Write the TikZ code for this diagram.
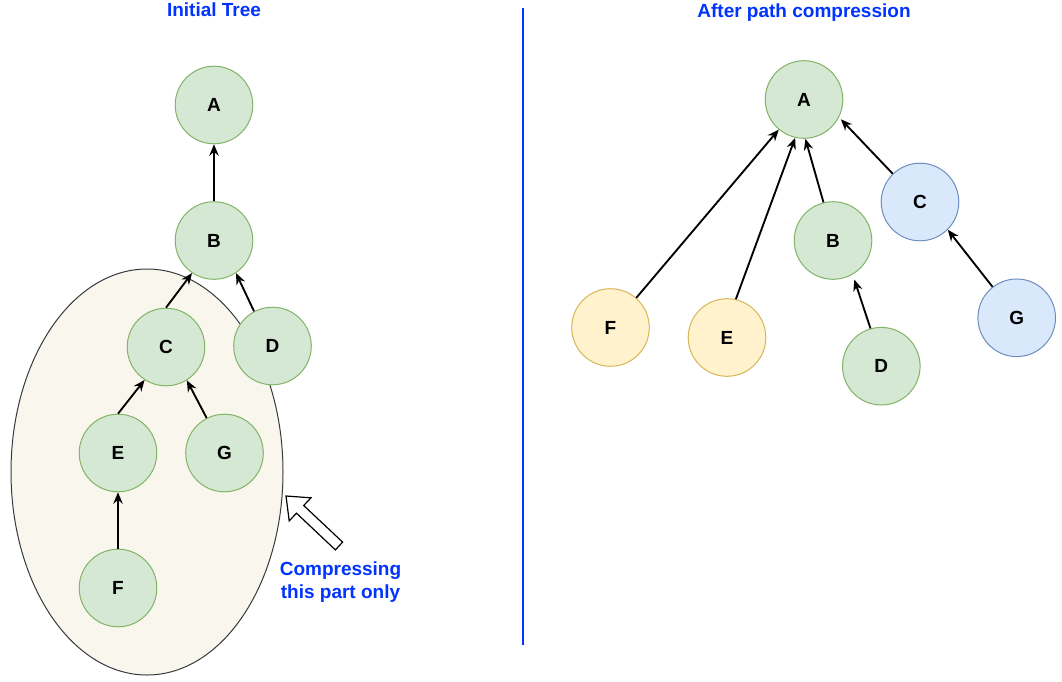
\documentclass[tikz,border=0pt]{standalone}
\usepackage{fontspec}
\setmainfont{Liberation Sans}
\usetikzlibrary{arrows.meta}
\definecolor{grfill}{HTML}{D5E8D4}
\definecolor{grline}{HTML}{82B366}
\definecolor{yefill}{HTML}{FFF2CC}
\definecolor{yeline}{HTML}{D6B656}
\definecolor{blfill}{HTML}{DAE8FC}
\definecolor{blline}{HTML}{6C8EBF}
\definecolor{elfill}{HTML}{F9F7ED}
\definecolor{elline}{HTML}{36393D}
\definecolor{titleblue}{HTML}{0033FF}
\begin{document}
\begin{tikzpicture}[x=0.75pt,y=-0.75pt,
  vtx/.style={circle, minimum size=58.2pt, inner sep=0pt, line width=0.75pt,
    font=\fontsize{14.25}{17}\selectfont\bfseries},
  gnode/.style={vtx, fill=grfill, draw=grline},
  ynode/.style={vtx, fill=yefill, draw=yeline},
  bnode/.style={vtx, fill=blfill, draw=blline},
  link/.style={line width=1.4pt, -{Stealth[length=8.5pt,width=7pt,inset=2.8pt]}},
  ttl/.style={text=titleblue, font=\fontsize{14.25}{17}\selectfont\bfseries, anchor=base, inner sep=0pt}
]
\useasboundingbox (0,0) rectangle (1062,681);

% region being compressed
\draw[fill=elfill, draw=elline, line width=0.75pt] (147,472) ellipse [x radius=136, y radius=203];

% titles and divider
\node[ttl] (t1) at (214,16.7) {Initial Tree};
\node[ttl] (t2) at (804,17.2) {After path compression};
\draw[titleblue, line width=1.3pt] (523.3,8) -- (523.3,645);

% left tree
\node[gnode] (lA) at (214,105) {A};
\node[gnode] (lB) at (214,240.5) {B};
\node[gnode] (lC) at (166,347) {C};
\node[gnode] (lD) at (272.5,346) {D};
\node[gnode] (lE) at (118,453) {E};
\node[gnode] (lG) at (224.5,453) {G};
\node[gnode] (lF) at (118,588) {F};

\draw[link] (lB.90) -- (lA.-90);
\draw[link] (lC.90) -- (lB.-124);
\draw[link] (lD.118) -- (lB.-56);
\draw[link] (lE.90) -- (lC.-123);
\draw[link] (lG.117) -- (lC.-58);
\draw[link] (lF.90) -- (lE.-90);

% block arrow
\draw[fill=white, draw=black, line width=0.9pt, line join=miter]
  (286,496) -- (311.0,497.8) -- (303.7,505.5) -- (342.6,542.1)
  -- (335.4,549.9) -- (296.5,513.2) -- (289.2,520.8) -- cycle;
\node[ttl] (c1) at (340.5,575) {Compressing};
\node[ttl] (c2) at (340.5,598.3) {this part only};

% right tree
\node[gnode] (rA) at (804,99.5) {A};
\node[gnode] (rB) at (833,240.5) {B};
\node[bnode] (rC) at (920,202) {C};
\node[ynode] (rF) at (610.5,327.5) {F};
\node[ynode] (rE) at (727,337.5) {E};
\node[gnode] (rD) at (881.3,366.2) {D};
\node[bnode] (rG) at (1016.7,317.8) {G};

\draw[link] (rF.49) -- (rA.-130);
\draw[link] (rE.77) -- (rA.-103);
\draw[link] (rB.104) -- (rA.-88);
\draw[link, shorten >=2pt] (rC.134) -- (rA.-27);
\draw[link] (rG.128) -- (rC.-45);
\draw[link, shorten >=4pt] (rD.106) -- (rB.-60);
\end{tikzpicture}
\end{document}
